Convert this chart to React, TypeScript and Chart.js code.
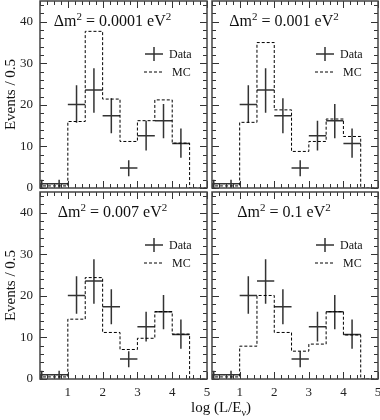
import React, { useEffect, useRef } from "react";
import { Chart, registerables } from "chart.js";
Chart.register(...registerables);

// ---- data ----
const binEdges = [0, 0.5, 1, 1.5, 2, 2.5, 3, 3.5, 4, 4.5, 5];
const dataCenters = [0.25, 0.75, 1.25, 1.75, 2.25, 2.75, 3.25, 3.75, 4.25];
const dataValues = [1, 1, 20.1, 23.6, 17.4, 4.8, 12.6, 16.2, 10.7];
const dataErrLow = [1, 1, 4.4, 5.5, 4.2, 2.0, 3.6, 4.2, 3.4];
const dataErrHigh = [1, 1, 4.6, 5.2, 4.2, 1.9, 3.6, 4.0, 3.6];
const mc0001 = [0.5, 0.5, 16.0, 37.7, 21.4, 11.2, 16.2, 21.2, 10.8, 0];
const mc001 = [0.5, 0.5, 15.8, 35.0, 18.8, 8.8, 11.2, 16.6, 12.4, 0];
const mc007 = [0.5, 0.5, 14.4, 24.4, 11.2, 7.1, 9.8, 16.2, 10.8, 0];
const mc01 = [0.5, 0.5, 7.9, 20.1, 11.2, 6.7, 8.4, 16.2, 10.6, 0];
const mcSeries = [mc0001, mc001, mc007, mc01];
const dm2Labels = ["0.0001", "0.001", "0.007", "0.1"];
const xTicks = [1, 2, 3, 4, 5];
const yTicks = [0, 10, 20, 30, 40];
const xRange = [0.2, 5];
const yRange = [0, 45];
const xMinorStep = 0.2;
const yMinorStep = 2;
const yTitle = "Events / 0.5";
const legendLabels = ["Data", "MC"];

const FONT = "'Liberation Serif', 'Times New Roman', serif";
const INK = "#333";

type PanelCfg = { left: number; top: number; right: number; bottom: number; showX: boolean; showY: boolean };
const panels: PanelCfg[] = [
  { left: 40, top: 1, right: 207, bottom: 188, showX: false, showY: true },
  { left: 212, top: 1, right: 378, bottom: 188, showX: false, showY: false },
  { left: 40, top: 192, right: 207, bottom: 379, showX: true, showY: true },
  { left: 212, top: 192, right: 378, bottom: 379, showX: true, showY: false },
];

function drawSupText(ctx: CanvasRenderingContext2D, parts: { t: string; sup?: boolean; sub?: boolean }[], x: number, y: number, size: number, small: number, measureOnly = false) {
  let w = 0;
  for (const p of parts) {
    ctx.font = `${p.sup || p.sub ? small : size}px ${FONT}`;
    const dy = p.sup ? -size * 0.38 : p.sub ? size * 0.25 : 0;
    if (!measureOnly) ctx.fillText(p.t, x + w, y + dy);
    w += ctx.measureText(p.t).width;
  }
  return w;
}

const decorPlugin = {
  id: "panelDecor",
  afterDraw(chart: any) {
    const o = chart.options.plugins.panelDecor;
    const { ctx, chartArea: a } = chart;
    const xs = chart.scales.x;
    const ys = chart.scales.y;
    ctx.save();
    // ticks on all four sides, inward
    ctx.strokeStyle = INK;
    ctx.lineWidth = 1;
    ctx.beginPath();
    const nX = Math.round((xRange[1] - xRange[0]) / xMinorStep);
    for (let i = 0; i <= nX; i++) {
      const v = xRange[0] + i * xMinorStep;
      const major = xTicks.some((t) => Math.abs(t - v) < 1e-6);
      const len = major ? 7 : 4;
      const px = Math.round(xs.getPixelForValue(v)) + 0.5;
      ctx.moveTo(px, a.bottom); ctx.lineTo(px, a.bottom - len);
      ctx.moveTo(px, a.top); ctx.lineTo(px, a.top + len);
    }
    const nY = Math.round((yRange[1] - yRange[0]) / yMinorStep);
    for (let i = 0; i <= nY; i++) {
      const v = yRange[0] + i * yMinorStep;
      const major = yTicks.some((t) => Math.abs(t - v) < 1e-6);
      const len = major ? 7 : 4;
      const py = Math.round(ys.getPixelForValue(v)) + 0.5;
      ctx.moveTo(a.left, py); ctx.lineTo(a.left + len, py);
      ctx.moveTo(a.right, py); ctx.lineTo(a.right - len, py);
    }
    ctx.stroke();
    // frame
    ctx.strokeStyle = "#444";
    ctx.lineWidth = 1.5;
    ctx.strokeRect(a.left, a.top, a.right - a.left, a.bottom - a.top);

    // title
    ctx.fillStyle = "#111";
    ctx.textBaseline = "alphabetic";
    ctx.textAlign = "left";
    const parts = [{ t: "\u0394m" }, { t: "2", sup: true }, { t: " = " + o.dm2 + " eV" }, { t: "2", sup: true }];
    const tw = drawSupText(ctx, parts, 0, 0, 16, 11, true);
    const cx = (a.left + a.right) / 2 - 11;
    drawSupText(ctx, parts, cx - tw / 2, a.top + 25, 16, 11);

    // legend
    const lx = a.right - 53;
    const r1 = a.top + 53;
    const r2 = a.top + 71;
    ctx.strokeStyle = INK;
    ctx.lineWidth = 1.5;
    ctx.beginPath();
    ctx.moveTo(lx - 9, r1); ctx.lineTo(lx + 9, r1);
    ctx.moveTo(lx, r1 - 7); ctx.lineTo(lx, r1 + 7);
    ctx.stroke();
    ctx.strokeStyle = "#000";
    ctx.lineWidth = 1;
    ctx.setLineDash([3, 2]);
    ctx.beginPath();
    ctx.moveTo(lx - 10, r2); ctx.lineTo(lx + 10, r2);
    ctx.stroke();
    ctx.setLineDash([]);
    ctx.font = `12px ${FONT}`;
    ctx.textBaseline = "middle";
    ctx.fillText(legendLabels[0], a.right - 38, r1 + 1);
    ctx.fillText(legendLabels[1], a.right - 35, r2 + 1);

    // axis titles
    if (o.yTitle) {
      ctx.save();
      ctx.translate(11, (a.top + a.bottom) / 2);
      ctx.rotate(-Math.PI / 2);
      ctx.textAlign = "center";
      ctx.textBaseline = "middle";
      ctx.font = `15px ${FONT}`;
      ctx.fillText(yTitle, 0, 0);
      ctx.restore();
    }
    if (o.xTitle) {
      ctx.textBaseline = "alphabetic";
      ctx.textAlign = "left";
      drawSupText(ctx, [{ t: "log (L/E" }, { t: "\u03bd", sub: true }, { t: ")" }], 191, 412, 15, 10);
    }
    ctx.restore();
  },
};

function buildDatasets(mc: number[]) {
  const half = (binEdges[1] - binEdges[0]) / 2;
  const mcPts = binEdges.map((e, i) => ({ x: e, y: mc[Math.min(i, mc.length - 1)] }));
  const hPts: any[] = [];
  const vPts: any[] = [];
  dataCenters.forEach((c, i) => {
    const v = dataValues[i];
    hPts.push({ x: c - half, y: v }, { x: c + half, y: v }, { x: c + half, y: null });
    vPts.push({ x: c, y: v - dataErrLow[i] }, { x: c, y: v + dataErrHigh[i] }, { x: c, y: null });
  });
  return [
    { label: "MC", data: mcPts, stepped: true, borderColor: "#000", borderWidth: 1, borderDash: [3, 2], pointRadius: 0, fill: false },
    { label: "Data", data: hPts, borderColor: INK, borderWidth: 1.5, pointRadius: 0, fill: false, spanGaps: false },
    { label: "Data err", data: vPts, borderColor: INK, borderWidth: 1.5, pointRadius: 0, fill: false, spanGaps: false },
  ];
}

const noPad = (s: any) => {
  s.paddingTop = 0; s.paddingBottom = 0; s.paddingLeft = 0; s.paddingRight = 0;
};

export default function App() {
  const refs = [useRef<HTMLCanvasElement>(null), useRef<HTMLCanvasElement>(null), useRef<HTMLCanvasElement>(null), useRef<HTMLCanvasElement>(null)];
  useEffect(() => {
    const charts = panels.map((p, idx) => {
      const canvas = refs[idx].current!;
      const yW = p.showY ? p.left : 0;
      const xH = p.showX ? 420 - p.bottom : 0;
      return new Chart(canvas, {
        type: "line",
        data: { datasets: buildDatasets(mcSeries[idx]) as any },
        options: {
          animation: false,
          responsive: false,
          events: [],
          layout: {
            padding: {
              left: p.showY ? 0 : p.left,
              top: p.top,
              right: 380 - p.right,
              bottom: p.showX ? 0 : 420 - p.bottom,
            },
          },
          plugins: {
            legend: { display: false },
            tooltip: { enabled: false },
            panelDecor: { dm2: dm2Labels[idx], yTitle: p.showY, xTitle: idx === 3 },
          } as any,
          scales: {
            x: {
              type: "linear",
              min: xRange[0],
              max: xRange[1],
              display: p.showX,
              grid: { display: false, drawTicks: false },
              border: { display: false },
              ticks: { color: "#222", font: { family: FONT, size: 13 }, padding: 6, autoSkip: false, maxRotation: 0 },
              afterBuildTicks: (s: any) => { s.ticks = xTicks.map((v) => ({ value: v })); },
              afterFit: (s: any) => { s.height = xH; noPad(s); },
            },
            y: {
              type: "linear",
              min: yRange[0],
              max: yRange[1],
              display: p.showY,
              grid: { display: false, drawTicks: false },
              border: { display: false },
              ticks: { color: "#222", font: { family: FONT, size: 13 }, padding: 7, autoSkip: false },
              afterBuildTicks: (s: any) => { s.ticks = yTicks.map((v) => ({ value: v })); },
              afterFit: (s: any) => { s.width = yW; noPad(s); },
            },
          },
        },
        plugins: [decorPlugin],
      });
    });
    return () => charts.forEach((c) => c.destroy());
  }, []);
  return (
    <div style={{ position: "fixed", left: 0, top: 0, width: 380, height: 420, background: "#fff" }}>
      {refs.map((r, i) => (
        <canvas key={i} ref={r} width={380} height={420} style={{ position: "absolute", left: 0, top: 0, width: 380, height: 420 }} />
      ))}
    </div>
  );
}
